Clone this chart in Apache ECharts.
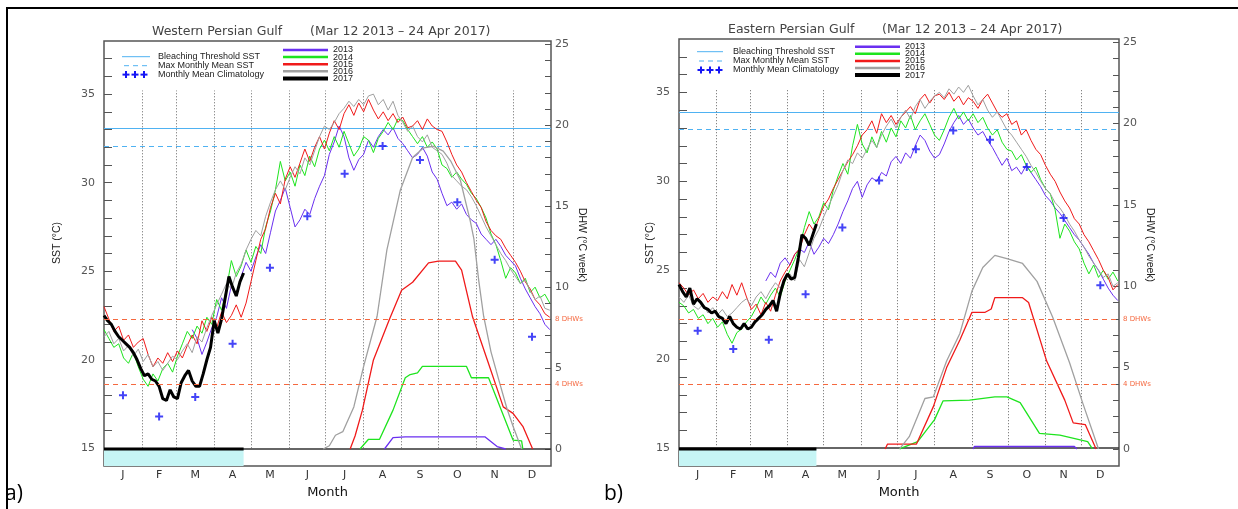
<!DOCTYPE html>
<html><head><meta charset="utf-8">
<script src="https://cdn.jsdelivr.net/npm/echarts@6/dist/echarts.min.js"></script>
<style>html,body{margin:0;padding:0;background:#fff;}#c{width:1238px;height:509px;}</style>
</head><body><div id="c"></div>
<script>
// ---------------- DATA ----------------
const monthLetters = ['J','F','M','A','M','J','J','A','S','O','N','D'];
const monthMid = [15.5,45,74.5,105,135.5,166,196.5,227.5,258,288.5,319,349.5];
const monthStarts = [31,59,90,120,151,181,212,243,273,304,334];
const yearNames = ['2013','2014','2015','2016','2017'];
const STEP = 4;        // days between SST values (full years)
const STEP17 = 3;      // days between SST values (2017)
const START13 = 72;    // first day of 2013 record (Mar 13)
const END17 = 114;     // last day of 2017 record (Apr 24)

// Western Persian Gulf
const westBleach = 33.05, westMMM = 32.05;
const westClim = [18.0,16.8,17.9,20.9,25.2,28.1,30.5,32.07,31.28,28.9,25.65,21.3];
const westSST2013 = [21.7,21.2,20.3,21.0,21.8,
 22.4,23.5,22.9,24.2,23.6,24.7,25.5,25.0,
 25.8,26.5,26.0,27.2,28.4,29.0,29.7,
 28.6,27.5,27.9,28.5,28.2,29.1,29.8,30.4,
 31.6,32.3,33.2,32.6,31.4,30.7,31.3,31.6,
 32.4,32.0,32.6,33.0,32.7,33.1,32.5,
 32.2,31.8,31.4,31.6,32.0,31.5,30.6,30.2,
 29.4,28.7,28.9,28.5,28.8,28.2,27.9,27.7,
 27.1,26.8,26.5,26.8,26.4,25.9,25.6,
 25.3,24.6,24.0,23.5,23.0,22.6,22.0,21.7];
const westSST2014 = [21.7,21.2,20.7,20.9,20.1,19.8,20.4,19.6,
 18.9,18.5,19.2,18.8,19.5,19.8,19.3,
 20.2,20.9,21.6,21.2,21.9,21.5,22.4,22.0,
 23.4,22.8,24.0,25.6,24.7,25.3,26.2,25.5,
 26.4,26.0,27.5,28.4,29.6,31.2,30.1,
 30.6,29.8,31.0,30.4,31.5,30.9,31.9,32.4,
 31.8,32.6,32.0,32.9,32.2,31.5,31.9,32.6,
 32.4,31.7,32.5,32.9,33.4,33.0,33.6,
 33.5,33.0,32.6,32.2,32.6,32.0,32.3,31.9,
 31.0,30.8,30.3,30.6,30.2,29.9,29.4,29.1,
 28.6,28.0,27.1,26.5,25.6,24.6,25.2,
 24.9,24.3,24.6,23.8,24.1,23.5,23.7,23.2];
const westSST2015 = [23.0,22.3,21.6,21.9,21.1,21.4,20.7,21.0,
 21.2,20.3,19.6,20.1,19.8,20.4,19.9,
 20.5,20.1,20.8,21.4,20.9,22.2,21.6,22.4,
 21.8,22.7,22.1,22.5,23.1,22.4,23.2,24.4,
 25.6,26.8,27.4,28.6,29.4,28.8,30.2,
 30.9,30.3,31.1,31.9,31.2,32.0,32.6,31.9,
 32.8,33.5,33.0,33.9,34.4,33.8,34.5,34.0,
 34.7,34.1,33.6,34.0,33.5,33.9,33.4,
 33.7,33.1,33.2,33.5,33.0,33.6,33.2,33.0,
 32.9,32.3,31.6,31.0,30.6,30.0,29.5,29.0,
 28.6,27.8,27.3,27.0,26.8,26.3,25.9,
 25.5,25.0,24.4,24.0,23.4,23.1,22.6,22.4];
const westSST2016 = [21.3,21.6,20.9,21.2,20.5,20.8,20.2,20.6,
 19.9,20.3,19.6,19.9,19.4,19.8,20.2,
 20.0,20.5,20.9,20.4,21.3,21.0,21.8,22.5,
 23.1,23.7,24.3,24.0,24.9,25.4,26.2,26.8,
 27.3,27.0,28.1,28.9,29.6,30.1,29.6,
 30.3,30.9,30.5,31.4,31.0,31.8,32.6,33.2,
 33.0,33.4,33.9,34.2,34.6,34.3,34.7,34.4,
 34.9,35.0,34.4,34.7,34.1,34.6,33.8,
 33.4,32.9,33.2,32.6,32.3,32.7,32.0,31.8,
 31.6,31.1,30.4,30.1,29.8,29.6,29.2,28.7,
 28.1,27.5,27.0,26.5,26.0,25.6,25.1,
 24.7,24.3,24.5,23.9,23.4,23.6,22.9,22.8];
const westSST2017 = [22.5,22.2,22.0,21.6,21.3,21.1,20.9,20.7,20.4,20.0,
 19.5,19.1,19.2,18.9,18.8,18.5,17.8,17.7,18.3,17.9,
 17.8,18.7,19.1,19.4,18.8,18.5,18.5,19.2,20.0,20.7,
 22.2,21.5,22.3,23.5,24.7,24.1,23.6,24.4,24.9];
const westDHW2013Days = [229,236,246,311,321,328];
const westDHW2013 = [0,0.7,0.75,0.75,0.15,0];
const westDHW2014Days = [209,216,225,236,246,250,256,260,296,300,314,334,341,342];
const westDHW2014 = [0,0.6,0.6,2.4,4.4,4.6,4.7,5.1,5.1,4.4,4.4,0.55,0.5,0];
const westDHW2015Days = [201,205,211,220,233,243,252,265,273,287,292,301,313,326,334,342,350];
const westDHW2015 = [0,0.8,2.4,5.5,8.0,9.8,10.3,11.5,11.6,11.6,11.05,8.15,5.5,2.6,2.2,1.4,0];
const westDHW2016Days = [179,184,189,195,204,212,223,231,242,252,261,269,277,283,291,299,302,306,310,316,323,329,334,341];
const westDHW2016 = [0,0.2,0.85,1.07,2.6,5.1,8.2,12.3,16.0,18.0,18.6,18.7,18.4,17.8,16.6,14.1,13.0,10.4,8.2,6.0,4.1,2.5,1.4,0];
const westDHW2017Days = [0,114];
const westDHW2017 = [0,0];

// Eastern Persian Gulf
const eastBleach = 33.9, eastMMM = 32.9;
const eastClim = [21.6,20.57,21.09,23.66,27.4,30.05,31.8,32.86,32.34,30.8,27.94,24.16];
const eastSST2013 = [24.4,24.9,24.6,25.4,25.7,
 25.3,25.9,26.2,26.0,26.6,25.9,26.3,26.8,
 26.5,27.0,27.6,28.3,28.9,29.6,30.0,
 29.1,29.8,30.2,30.0,30.5,30.3,31.1,31.4,
 31.0,31.6,31.3,32.0,32.6,32.3,31.7,31.3,
 31.5,32.1,32.8,33.3,33.7,33.2,33.5,
 33.0,32.6,32.8,32.3,31.9,31.4,30.9,31.3,
 30.6,30.8,30.4,30.9,30.5,30.1,29.7,29.2,
 28.9,28.5,28.2,27.8,27.4,27.0,26.7,
 26.3,25.9,25.4,25.0,24.5,24.0,23.6,23.3];
const eastSST2014 = [23.2,23.0,22.6,22.8,22.3,22.5,22.0,22.3,
 21.8,22.1,21.4,20.9,21.5,21.7,22.1,
 22.4,22.9,23.5,23.1,23.6,24.0,23.5,24.4,
 25.0,25.6,26.3,27.4,28.3,27.6,28.0,28.8,
 28.4,29.5,30.3,31.0,30.4,32.0,33.2,
 32.1,31.6,32.5,31.9,32.8,32.2,33.0,32.5,
 33.4,33.0,33.7,32.9,33.4,33.8,33.2,32.6,
 32.3,32.9,33.6,34.1,33.5,33.9,33.4,
 33.8,33.3,33.6,33.0,32.6,32.9,32.2,31.8,
 31.7,31.2,31.5,30.9,30.5,30.8,30.1,29.6,
 29.3,28.4,26.8,27.6,27.2,26.6,26.2,
 25.4,24.8,25.3,24.6,25.0,24.5,24.9,24.4];
const eastSST2015 = [24.3,24.0,23.6,23.9,23.4,23.7,23.2,23.5,
 23.3,23.8,23.4,24.2,23.6,24.3,23.5,
 22.8,23.1,22.5,23.2,22.7,23.6,24.4,24.9,
 25.3,25.9,26.2,27.0,27.6,27.2,27.9,28.6,
 29.0,29.6,30.1,30.6,31.1,31.5,32.0,
 32.6,32.9,33.4,32.7,33.8,33.3,33.7,33.2,
 33.6,33.9,34.2,33.8,34.6,34.9,34.4,34.8,
 34.9,34.6,35.0,34.5,34.8,34.3,34.7,
 34.5,34.1,34.6,34.9,34.4,33.9,33.6,33.8,
 33.2,33.4,32.6,32.9,32.3,31.8,31.5,30.9,
 30.4,30.0,29.4,28.9,28.5,27.9,27.6,
 27.0,26.6,26.1,25.6,25.0,24.6,23.9,24.2];
const eastSST2016 = [23.5,23.2,23.6,23.0,22.8,23.1,22.6,22.9,
 22.5,22.8,22.4,22.6,22.9,23.2,23.4,
 23.0,23.5,23.8,23.4,23.9,24.3,24.0,24.5,
 24.8,24.4,25.6,25.2,26.0,26.8,27.3,28.0,
 28.6,29.2,29.8,30.6,31.2,31.0,31.6,
 31.3,31.8,32.3,31.9,32.6,33.1,33.5,33.0,
 33.6,34.0,33.5,34.2,34.6,34.1,34.5,34.8,
 35.0,34.7,35.2,34.9,35.3,35.0,35.4,
 34.8,34.3,34.6,34.0,33.6,33.9,33.4,32.9,
 32.6,32.2,31.8,31.4,30.9,30.5,30.0,29.6,
 29.3,28.8,28.5,28.1,27.6,27.2,26.7,
 26.3,25.8,25.4,25.0,24.6,24.8,24.1,24.3];
const eastSST2017 = [24.2,23.8,23.5,24.0,23.1,23.4,23.2,22.9,22.8,22.6,
 22.7,22.4,22.3,22.0,22.4,22.0,21.8,21.7,22.0,21.7,
 21.8,22.1,22.3,22.5,22.8,23.0,23.3,22.7,23.7,24.4,
 24.8,24.5,24.6,25.7,27.0,26.8,26.4,27.0,27.6];
const eastDHW2013Days = [244,245,328,330];
const eastDHW2013 = [0,0.15,0.15,0];
const eastDHW2014Days = [183,198,212,219,241,262,272,283,299,316,339,343];
const eastDHW2014 = [0,0.45,1.8,2.95,3.0,3.2,3.2,2.85,0.95,0.85,0.45,0];
const eastDHW2015Days = [171,173,197,211,222,233,243,254,259,262,285,290,305,320,327,337,346];
const eastDHW2015 = [0,0.3,0.3,2.6,5.0,6.7,8.4,8.4,8.6,9.3,9.3,9.0,5.4,3.0,1.6,1.5,0];
const eastDHW2016Days = [183,191,204,211,222,233,243,252,262,272,285,297,310,324,335,348];
const eastDHW2016 = [0,0.75,3.1,3.2,5.4,7.1,9.7,11.15,11.9,11.7,11.4,10.3,8.1,5.3,2.8,0];
const eastDHW2017Days = [0,114];
const eastDHW2017 = [0,0];

// ---------------- BUILD ----------------
const yearColors = ['#6a2ff0','#1ee41e','#f01a1a','#a0a0a0','#000000'];
const lightBlue = '#4fb2f2';
const dhwColor = '#f5683f';
const seq = (start, step, vals) => vals.map((v,i)=>[start+i*step, v]);
const zip = (days, vals) => days.map((d,i)=>[d, vals[i]]);
const range = (a,b)=>{const r=[];for(let i=a;i<=b;i++)r.push(i);return r;};

const panels = [
  {name:'Western Persian Gulf', grid:{left:104, top:41, width:447, height:425},
   bleach:westBleach, mmm:westMMM, clim:westClim,
   sst:[seq(START13,STEP,westSST2013), seq(0,STEP,westSST2014), seq(0,STEP,westSST2015), seq(0,STEP,westSST2016), seq(0,STEP17,westSST2017)],
   dhw:[zip(westDHW2013Days,westDHW2013), zip(westDHW2014Days,westDHW2014), zip(westDHW2015Days,westDHW2015), zip(westDHW2016Days,westDHW2016), zip(westDHW2017Days,westDHW2017)],
   title:{x1:152, x2:310, y:32}, leg:{lx1:122, lx2:150, tx:158, ly:[56.7,65.7,74.6], yx1:283, yx2:328, ytx:333, yy:50},
   sstName:{x:57,y:243}, dhwName:{x:582,y:245}, tag:{text:'a)', x:5}},
  {name:'Eastern Persian Gulf', grid:{left:679, top:39, width:440, height:427},
   bleach:eastBleach, mmm:eastMMM, clim:eastClim,
   sst:[seq(START13,STEP,eastSST2013), seq(0,STEP,eastSST2014), seq(0,STEP,eastSST2015), seq(0,STEP,eastSST2016), seq(0,STEP17,eastSST2017)],
   dhw:[zip(eastDHW2013Days,eastDHW2013), zip(eastDHW2014Days,eastDHW2014), zip(eastDHW2015Days,eastDHW2015), zip(eastDHW2016Days,eastDHW2016), zip(eastDHW2017Days,eastDHW2017)],
   title:{x1:728, x2:882, y:30}, leg:{lx1:697, lx2:723, tx:733, ly:[51.7,61,70], yx1:855, yx2:900, ytx:905, yy:46.7},
   sstName:{x:650,y:243}, dhwName:{x:1150,y:245}, tag:{text:'b)', x:604}}
];

const option = {animation:false, backgroundColor:'#fff', grid:[], xAxis:[], yAxis:[], series:[], graphic:[]};
const crossPath = 'path://M3,0H5V3H8V5H5V8H3V5H0V3H3Z';
const FF = 'DejaVu Sans';

panels.forEach((p,k)=>{
  option.grid.push(Object.assign({show:true, borderColor:'#555', borderWidth:1.5, backgroundColor:'transparent'}, p.grid));
  option.xAxis.push({type:'value', gridIndex:k, min:0, max:365,
    axisLine:{show:false}, axisTick:{show:false}, splitLine:{show:false},
    axisLabel:{customValues:monthMid, margin:4, color:'#333', fontSize:11, fontFamily:FF,
      formatter:(v)=>{let b=0;for(let i=0;i<monthMid.length;i++){if(Math.abs(monthMid[i]-v)<Math.abs(monthMid[b]-v))b=i;}return monthLetters[b];}},
    name:'Month', nameLocation:'middle', nameGap:14,
    nameTextStyle:{color:'#111', fontSize:13, fontFamily:FF}});
  option.yAxis.push({type:'value', gridIndex:k, position:'left', min:14, max:38,
    axisLine:{show:false}, splitLine:{show:false},
    axisTick:{show:true, inside:true, length:8, customValues:range(15,37), lineStyle:{color:'#555'}},
    axisLabel:{customValues:[15,20,25,30,35], margin:9, color:'#555', fontSize:11, fontFamily:FF}});
  option.yAxis.push({type:'value', gridIndex:k, position:'right', min:-1.05, max:25.2,
    axisLine:{show:false}, splitLine:{show:false},
    axisTick:{show:true, inside:true, length:6, customValues:range(0,25), lineStyle:{color:'#555'}},
    axisLabel:{customValues:[0,5,10,15,20,25], margin:4, color:'#555', fontSize:11, fontFamily:FF}});
  const xi = k, ys = 2*k, yd = 2*k+1;

  const ml = [
    {yAxis:p.bleach, lineStyle:{color:lightBlue, width:1, type:'solid'}},
    {yAxis:p.mmm, lineStyle:{color:lightBlue, width:1, type:[5,4]}},
    {yAxis:15, lineStyle:{color:'#333', width:1.5, type:'solid'}}
  ];
  monthStarts.forEach(d=>ml.push([{coord:[d,15], lineStyle:{color:'#666', width:1, type:[1,2]}},{coord:[d,35.2]}]));
  option.series.push({type:'scatter', xAxisIndex:xi, yAxisIndex:ys, symbol:crossPath, symbolSize:8,
    itemStyle:{color:'#1515f5'}, z:6, silent:true,
    data: p.clim.map((v,i)=>[monthMid[i], v]),
    markLine:{silent:true, symbol:['none','none'], label:{show:false}, data:ml, z:1},
    markArea:{silent:true, itemStyle:{color:'#c6f5f5'}, data:[[{xAxis:0, yAxis:14},{xAxis:END17, yAxis:15}]]}});
  p.sst.forEach((d,i)=>{
    option.series.push({type:'line', name:yearNames[i], xAxisIndex:xi, yAxisIndex:ys, data:d,
      showSymbol:false, silent:true, z:3+(i===4?1:0),
      lineStyle:{color:yearColors[i], width:i===4?3:1}});
  });
  p.dhw.forEach((d,i)=>{
    const s = {type:'line', xAxisIndex:xi, yAxisIndex:yd, data:d, showSymbol:false, silent:true, z:4,
      lineStyle:{color:yearColors[i], width:i===4?3:1.3}};
    if(i===4){
      s.markLine = {silent:true, symbol:['none','none'],
        lineStyle:{color:dhwColor, width:1, type:[5,4]},
        label:{show:true, position:'end', distance:4, color:dhwColor, fontSize:7, fontFamily:FF},
        data:[{yAxis:8, label:{formatter:'8 DHWs'}},{yAxis:4, label:{formatter:'4 DHWs'}}]};
    }
    option.series.push(s);
  });

  const G = option.graphic;
  G.push({type:'text', left:p.title.x1, top:p.title.y-7, style:{text:p.name, fill:'#444', font:'12.5px "DejaVu Sans"'}});
  G.push({type:'text', left:p.title.x2, top:p.title.y-7, style:{text:'(Mar 12 2013 \u2013 24 Apr 2017)', fill:'#444', font:'12.5px "DejaVu Sans"'}});
  const L = p.leg;
  G.push({type:'line', shape:{x1:L.lx1, y1:L.ly[0], x2:L.lx2, y2:L.ly[0]}, style:{stroke:lightBlue, lineWidth:1}});
  G.push({type:'line', shape:{x1:L.lx1+2, y1:L.ly[1], x2:L.lx2, y2:L.ly[1]}, style:{stroke:lightBlue, lineWidth:1, lineDash:[5,4]}});
  [0,1,2].forEach(j=>{
    const cx = L.lx1+4+j*9, cy=L.ly[2];
    G.push({type:'rect', shape:{x:cx-3.5, y:cy-1, width:7, height:2}, style:{fill:'#1515f5'}});
    G.push({type:'rect', shape:{x:cx-1, y:cy-3.5, width:2, height:7}, style:{fill:'#1515f5'}});
  });
  ['Bleaching Threshold SST','Max Monthly Mean SST','Monthly Mean Climatology'].forEach((t,j)=>{
    G.push({type:'text', x:L.tx, y:L.ly[j], style:{text:t, fill:'#222', font:'9px "Liberation Sans"', verticalAlign:'middle'}});
  });
  yearNames.forEach((t,j)=>{
    const yy = L.yy + j*7.1;
    G.push({type:'line', shape:{x1:L.yx1, y1:yy, x2:L.yx2, y2:yy}, style:{stroke:yearColors[j], lineWidth:j===4?4:2.5}});
    G.push({type:'text', x:L.ytx, y:yy, style:{text:t, fill:'#222', font:'9px "Liberation Sans"', verticalAlign:'middle'}});
  });
  G.push({type:'text', x:p.sstName.x, y:p.sstName.y, rotation:Math.PI/2,
    style:{text:'SST (\u00B0C)', fill:'#222', font:'10.5px "Liberation Sans"', align:'center', verticalAlign:'middle'}});
  G.push({type:'text', x:p.dhwName.x, y:p.dhwName.y, rotation:-Math.PI/2,
    style:{text:'DHW (\u00B0C week)', fill:'#222', font:'10.5px "Liberation Sans"', align:'center', verticalAlign:'middle'}});
  G.push({type:'text', x:p.tag.x, y:494, style:{text:p.tag.text, fill:'#000', font:'21px "Open Sans"', verticalAlign:'middle'}});
});
option.graphic.push({type:'line', shape:{x1:7, y1:8, x2:7, y2:509}, style:{stroke:'#000', lineWidth:2}});
option.graphic.push({type:'line', shape:{x1:6, y1:8, x2:1238, y2:8}, style:{stroke:'#000', lineWidth:2}});

const chart = echarts.init(document.getElementById('c'));
chart.setOption(option);
</script></body></html>
